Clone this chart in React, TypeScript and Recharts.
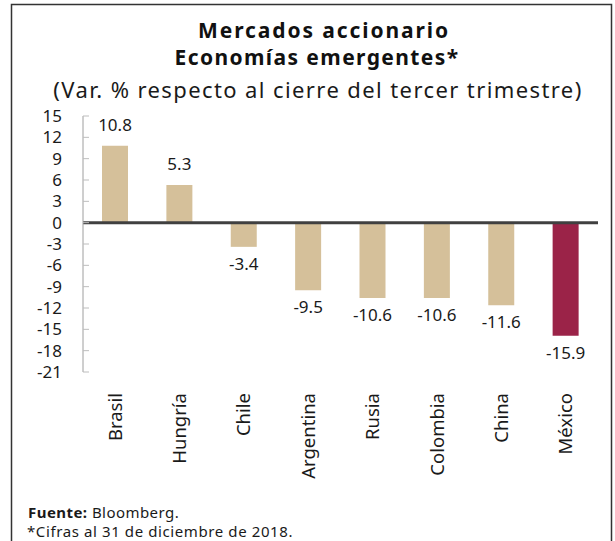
import React from 'react'
import { BarChart, Bar, XAxis, YAxis, ReferenceLine, Cell, LabelList } from 'recharts'

const countries = ['Brasil', 'Hungría', 'Chile', 'Argentina', 'Rusia', 'Colombia', 'China', 'México']
const changes = [10.8, 5.3, -3.4, -9.5, -10.6, -10.6, -11.6, -15.9]
const yTicks = [15, 12, 9, 6, 3, 0, -3, -6, -9, -12, -15, -18, -21]
const highlight = 'México'

const data = countries.map((name, i) => ({ name, value: changes[i] }))

const FONT = '"Noto Sans", sans-serif'
const TAN = '#D5C09A'
const MAROON = '#9B2348'
const INK = '#1a1a1a'

const YTick = ({ x, y, payload }: any) => (
  <g>
    <line x1={x + 21} x2={x + 27} y1={y} y2={y} stroke="#bdbdbd" strokeWidth={1} />
    <text x={x} y={y} dy="0.35em" textAnchor="end" fontSize={17} fill={INK} fontFamily={FONT}>
      {payload.value}
    </text>
  </g>
)

const XTick = ({ x, y, payload }: any) => (
  <text
    x={x}
    y={y + 21}
    dy="0.35em"
    textAnchor="end"
    fontSize={18.5}
    fill={INK}
    fontFamily={FONT}
    transform={`rotate(-90, ${x}, ${y + 21})`}
  >
    {payload.value}
  </text>
)

const ValueLabel = ({ x, y, width, height, value }: any) => {
  const top = Math.min(y, y + height)
  const bottom = Math.max(y, y + height)
  const ly = value >= 0 ? top - 15 : bottom + 23
  return (
    <text x={x + width / 2} y={ly} textAnchor="middle" fontSize={17} fill={INK} fontFamily={FONT}>
      {value.toFixed(1)}
    </text>
  )
}

export default function App() {
  return (
    <div style={{ position: 'fixed', left: 0, top: 0, width: 615, height: 541, background: '#fff', overflow: 'hidden' }}>
      <div style={{ position: 'absolute', left: 0, top: 0 }}>
        <BarChart width={615} height={541} data={data} margin={{ top: 116, right: 17, left: 0, bottom: 0 }}>
          <YAxis
            domain={[-21, 15]}
            ticks={yTicks}
            interval={0}
            width={83}
            tickSize={0}
            tickMargin={21}
            tick={<YTick />}
            axisLine={{ stroke: '#9e9e9e', strokeWidth: 1 }}
            tickLine={false}
          />
          <XAxis dataKey="name" height={169} axisLine={false} tickLine={false} tickSize={0} tickMargin={0} interval={0} tick={<XTick />} />
          <Bar dataKey="value" barSize={26} isAnimationActive={false}>
            {data.map((d) => (
              <Cell key={d.name} fill={d.name === highlight ? MAROON : TAN} />
            ))}
            <LabelList dataKey="value" content={<ValueLabel />} />
          </Bar>
          <ReferenceLine y={0} stroke="#404040" strokeWidth={3} />
        </BarChart>
      </div>

      {/* frame, titles and notes */}
      <svg width={615} height={541} style={{ position: 'absolute', left: 0, top: 0, pointerEvents: 'none' }} fontFamily={FONT}>
        <path d="M11.5 560 V4.5 H611.5 V560" fill="none" stroke="#333" strokeWidth={1.5} />
        <text x={324} y={38} textAnchor="middle" fontSize={21} fontWeight={700} letterSpacing={1.9} fill="#111">
          Mercados accionario
        </text>
        <text x={317} y={65} textAnchor="middle" fontSize={21} fontWeight={700} letterSpacing={1.4} fill="#111">
          Economías emergentes*
        </text>
        <text x={318} y={98} textAnchor="middle" fontSize={22} letterSpacing={1.4} fill={INK}>
          (Var. % respecto al cierre del tercer trimestre)
        </text>
        <text x={28} y={518} fontSize={15} letterSpacing={0.45} fill={INK}>
          <tspan fontWeight={700}>Fuente:</tspan> Bloomberg.
        </text>
        <text x={27} y={537} fontSize={15} letterSpacing={0.6} fill={INK}>
          *Cifras al 31 de diciembre de 2018.
        </text>
      </svg>
    </div>
  )
}
